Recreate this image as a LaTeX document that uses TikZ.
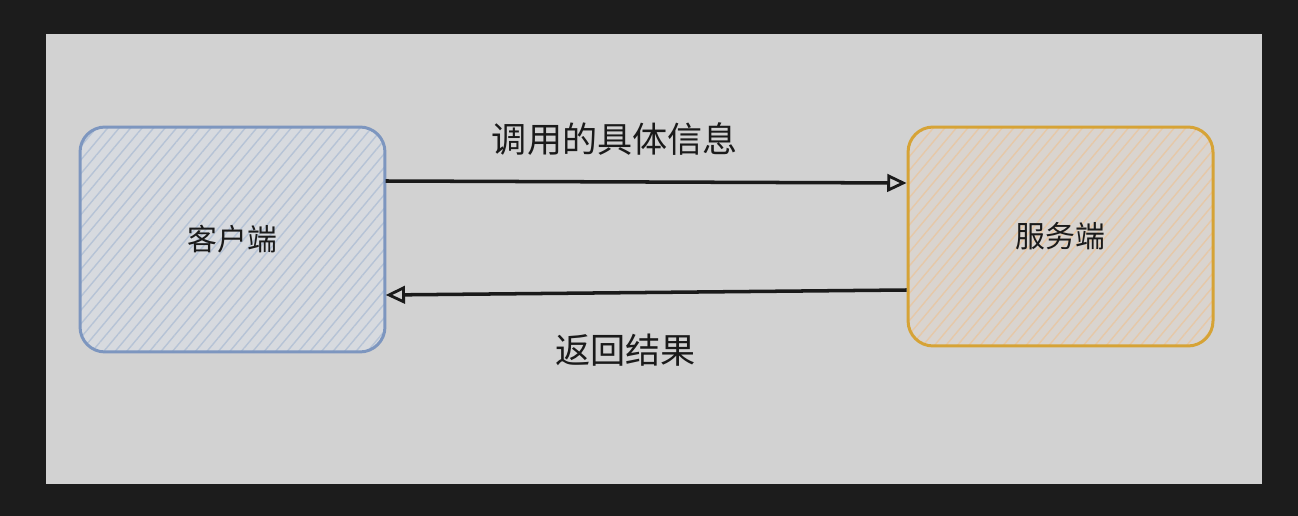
\documentclass[tikz,border=0pt]{standalone}
\usepackage{fontspec}
\newfontfamily\cjk{Noto Sans CJK SC}
\usetikzlibrary{arrows.meta,positioning,patterns.meta}

\definecolor{framegray}{HTML}{1C1C1C}
\definecolor{panelgray}{HTML}{D2D2D2}
\definecolor{clientline}{HTML}{7D96BF}
\definecolor{clientfill}{HTML}{D7DADF}
\definecolor{clienthatch}{HTML}{B6C3D6}
\definecolor{serverline}{HTML}{D6A336}
\definecolor{serverfill}{HTML}{D9D4CF}
\definecolor{serverhatch}{HTML}{E6C8A8}
\definecolor{inkblack}{HTML}{1A1A1A}

\begin{document}
\begin{tikzpicture}[x=0.02cm,y=-0.02cm,>={Triangle[open,length=11pt,width=10pt,line width=1.6pt]},
                    node distance=10.42cm,font=\cjk]
  \tikzstyle{box}=[rounded corners=0.5cm,line width=1.7pt,inner sep=0pt,
                   minimum width=6.1cm,minimum height=4.5cm,
                   text=inkblack,font=\cjk\fontsize{17}{20}\selectfont]
  \tikzstyle{link}=[->,line width=2pt,draw=inkblack]
  \tikzstyle{msg}=[text=inkblack,font=\cjk\fontsize{20}{24}\selectfont]

  \useasboundingbox[fill=framegray] (0,0) rectangle (1298,516);
  \fill[panelgray] (46,34) rectangle (1262,484);

  \node[box,draw=clientline,preaction={fill=clientfill},
        pattern={Lines[angle=50,distance=5pt,line width=0.8pt]},
        pattern color=clienthatch] (client) at (232.5,239.5) {客户端};
  \node[box,draw=serverline,preaction={fill=serverfill},minimum height=4.38cm,
        pattern={Lines[angle=50,distance=5pt,line width=0.8pt]},
        pattern color=serverhatch] (server) [right=of client,yshift=0.06cm] {服务端};

  \path (client.east |- 0,181) edge[link] node[msg,pos=0.44,yshift=0.86cm] {调用的具体信息} (server.west |- 0,183)
        (server.west |- 0,290) edge[link] node[msg,pos=0.54,yshift=-1.14cm] {返回结果} (client.east |- 0,295);
\end{tikzpicture}
\end{document}
